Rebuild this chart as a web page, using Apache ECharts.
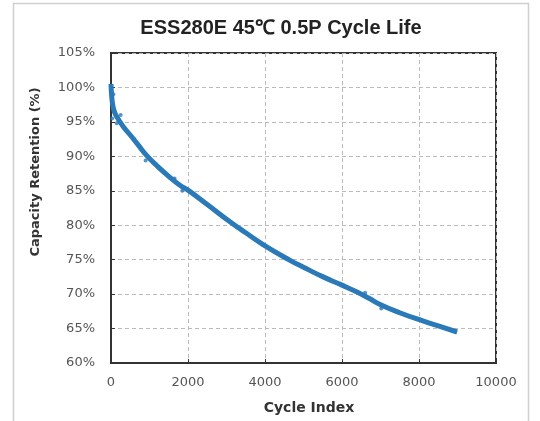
<!DOCTYPE html>
<html>
<head>
<meta charset="utf-8">
<script src="https://cdn.jsdelivr.net/npm/echarts@6/dist/echarts.min.js"></script>
<style>html,body{margin:0;padding:0;background:#fff}#c{width:540px;height:421px}</style>
</head>
<body>
<div id="c"></div>
<script>
// Data
var cycles = [0, 20, 50, 100, 200, 320, 500, 700, 930, 1200, 1500, 1790, 2000, 2500, 3090, 3500, 3950, 4650, 5000, 5510, 6000, 6390, 6700, 6990, 7500, 8100, 8600, 8990];
var retention = [100.5, 98.6, 97.3, 96.3, 95.3, 94.3, 93.1, 91.7, 90.1, 88.6, 87.1, 85.8, 85.1, 83.0, 80.5, 78.9, 77.2, 74.9, 73.9, 72.5, 71.3, 70.3, 69.4, 68.5, 67.3, 66.1, 65.2, 64.5];
var noiseCycles = [30, 60, 150, 250, 600, 900, 1650, 1850, 6600, 7020];
var noiseValues = [95.5, 99.0, 94.8, 96.0, 92.5, 89.4, 86.8, 85.0, 70.2, 67.9];
var yTicks = [60, 65, 70, 75, 80, 85, 90, 95, 100, 105];
var xTicks = [0, 2000, 4000, 6000, 8000, 10000];

var chart = echarts.init(document.getElementById('c'));
var lineData = cycles.map(function (c, i) { return [c, retention[i]]; });
var noiseData = noiseCycles.map(function (c, i) { return [c, noiseValues[i]]; });
var gridLine = { show: true, lineStyle: { color: '#bbbbbb', type: [4, 3], width: 1 } };
var tickFont = { fontFamily: 'DejaVu Sans', fontSize: 13, color: '#555' };
chart.setOption({
  animation: false,
  backgroundColor: '#ffffff',
  title: {
    text: 'ESS280E 45℃ 0.5P Cycle Life',
    left: 276, top: 13, textAlign: 'center',
    textStyle: { fontFamily: 'Liberation Sans, Arial', fontWeight: 'bold', fontSize: 20, color: '#222' }
  },
  graphic: [
    { type: 'rect', shape: { x: 13.5, y: 3.5, width: 515, height: 440 }, style: { fill: 'none', stroke: '#cfcfcf', lineWidth: 1.5 }, z: -1 },
    { type: 'text', x: 36, y: 172, rotation: Math.PI / 2, style: { text: 'Capacity Retention (%)', textAlign: 'center', textVerticalAlign: 'middle', font: 'bold 13px DejaVu Sans', fill: '#333' } },
    { type: 'text', x: 309, y: 408, style: { text: 'Cycle Index', textAlign: 'center', textVerticalAlign: 'middle', font: 'bold 14px DejaVu Sans', fill: '#333' } }
  ],
  grid: { left: 111, right: 44, top: 53, bottom: 58, show: true, borderColor: '#333', borderWidth: 2, backgroundColor: '#fff' },
  xAxis: {
    type: 'value', min: xTicks[0], max: xTicks[xTicks.length - 1], interval: 2000,
    axisLine: { show: true, lineStyle: { color: '#333', width: 2 } },
    axisTick: { show: true, inside: true, length: 4, lineStyle: { color: '#333' } },
    axisLabel: Object.assign({ margin: 13, formatter: function (v) { return String(v); } }, tickFont),
    splitLine: gridLine
  },
  yAxis: {
    type: 'value', min: yTicks[0], max: yTicks[yTicks.length - 1], interval: 5,
    axisLine: { show: true, lineStyle: { color: '#333', width: 2 } },
    axisTick: { show: true, inside: true, length: 4, lineStyle: { color: '#333' } },
    axisLabel: Object.assign({ margin: 16, formatter: '{value}%' }, tickFont),
    splitLine: gridLine
  },
  series: [
    { type: 'line', data: lineData, smooth: true, showSymbol: false, lineStyle: { color: '#2a79b8', width: 5 } },
    { type: 'scatter', data: noiseData, symbolSize: 4, itemStyle: { color: '#2a79b8' } }
  ]
});
</script>
</body>
</html>
